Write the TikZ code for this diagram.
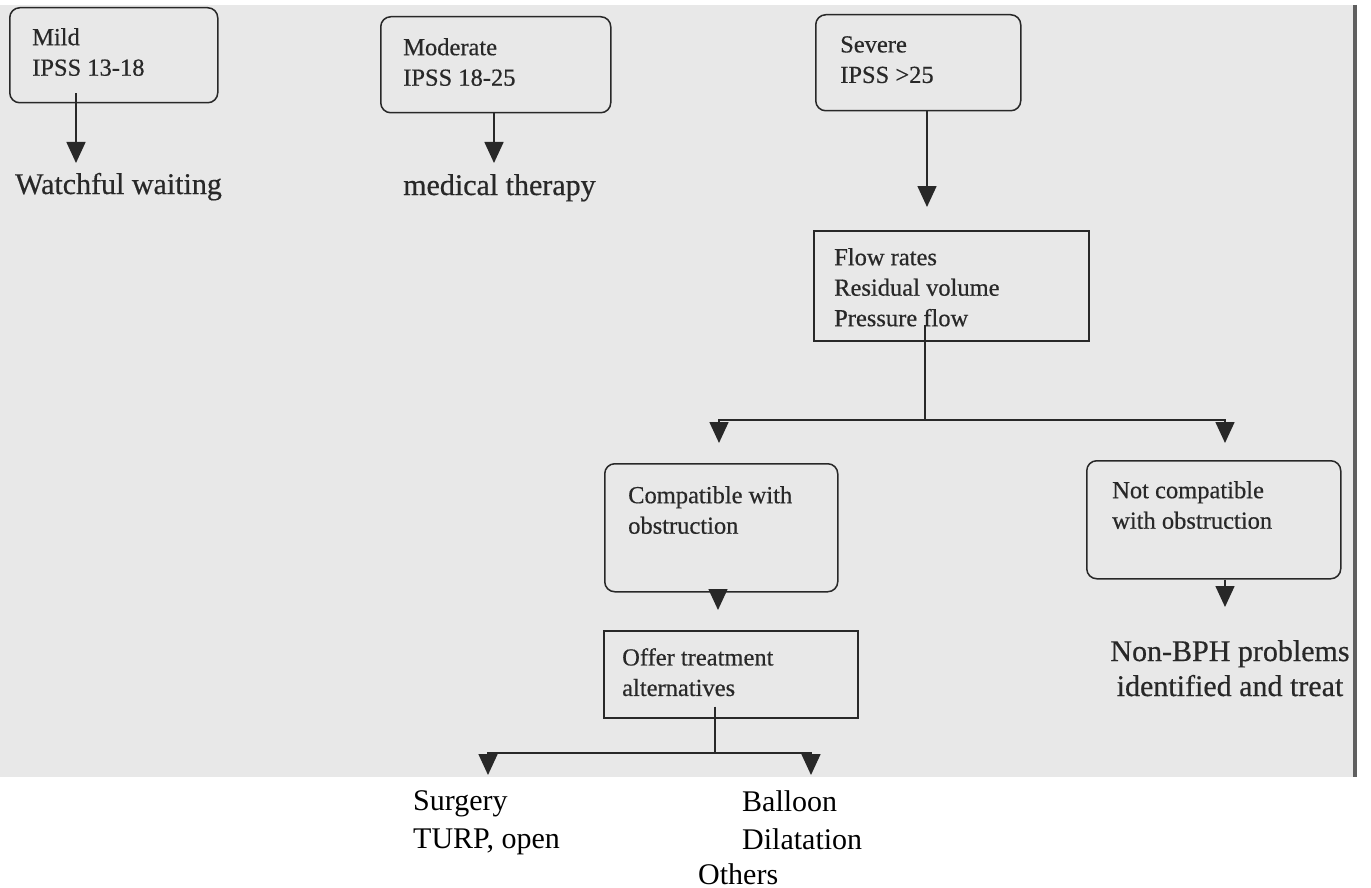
\documentclass[tikz,border=0pt]{standalone}
\usepackage{fontspec}
\setmainfont{Liberation Serif}
\newfontfamily\scanfont[FakeBold=0.5]{Liberation Serif}
\usetikzlibrary{arrows.meta,calc}
\definecolor{page}{RGB}{232,232,232}
\definecolor{ink}{RGB}{40,40,40}
\definecolor{edgeline}{RGB}{95,95,95}
\begin{document}
\begin{tikzpicture}[x=1pt,y=-1pt,
  rbox/.style={draw=ink, line width=1.5pt, rounded corners=10pt, inner sep=0pt, anchor=north west},
  sbox/.style={draw=ink, line width=1.5pt, inner sep=0pt, anchor=north west},
  btxt/.style={anchor=north west, inner sep=0pt, align=left, text=ink, font=\scanfont\fontsize{24.5}{30.5}\selectfont},
  big/.style={text=ink, inner sep=0pt, font=\scanfont\fontsize{30}{35}\selectfont},
  low/.style={text=black, inner sep=0pt, anchor=north west, align=left, font=\fontsize{30}{38}\selectfont},
  conn/.style={draw=ink, line width=1.6pt},
  arr/.style={conn, -{Triangle[width=19pt,length=21pt]}},
]
\useasboundingbox (0,0) rectangle (1371,888);
% background page
\fill[white] (0,0) rectangle (1371,888);
\fill[page] (0,5) rectangle (1353,777);

% boxes
\node[rbox, minimum width=208pt, minimum height=95pt] (mild) at (9,7) {};
\node[rbox, minimum width=230pt, minimum height=96pt] (moderate) at (380,16) {};
\node[rbox, minimum width=205pt, minimum height=96pt] (severe) at (815,14) {};
\node[sbox, minimum width=275pt, minimum height=110pt] (flow) at (813,230) {};
\node[rbox, minimum width=233pt, minimum height=128pt] (compat) at (604,463) {};
\node[rbox, minimum width=254pt, minimum height=118pt] (notcomp) at (1086,460) {};
\node[sbox, minimum width=254pt, minimum height=87pt] (offer) at (603,630) {};

% box texts
\node[btxt] (mildtxt) at (32,28) {Mild\\IPSS 13-18};
\node[btxt] (modtxt) at (403,38) {Moderate\\IPSS 18-25};
\node[btxt] (sevtxt) at (840,36) {Severe\\IPSS >25};
\node[btxt] (flowtxt) at (834,248) {Flow rates\\Residual volume\\Pressure flow};
\node[btxt] (comptxt) at (628,486) {Compatible with\\obstruction};
\node[btxt] (notctxt) at (1112,481) {Not compatible\\with obstruction};
\node[btxt] (offertxt) at (622,648) {Offer treatment\\alternatives};

% outcome texts
\node[big, anchor=base west] (ww) at (15,194) {Watchful waiting};
\node[big, anchor=base west] (med) at (403,195) {medical therapy};
\node[big, anchor=north, align=center] (nonbph) at (1230,640) {Non-BPH problems\\identified and treat};
\node[low] (surg) at (413,790) {Surgery\\TURP, open};
\node[low] (ball) at (742,790) {Balloon\\Dilatation};
\node[low] (others) at (698,863) {Others};

% arrow tips and junctions
\coordinate (t1) at (76,163);
\coordinate (t2) at (494,163);
\coordinate (t3) at (927,207);
\coordinate (j1) at (925,420);
\coordinate (t4) at (719,443);
\coordinate (t5) at (1225,443);
\coordinate (t6) at (718,610);
\coordinate (t7) at (1225,607);
\coordinate (j2) at (715,753);
\coordinate (t8) at (488,775);
\coordinate (t9) at (811,775);

% connectors
\draw[arr] ([yshift=10pt]mild.south -| t1) -- (t1);
\draw[arr] (moderate.south -| t2) -- (t2);
\draw[arr] (severe.south -| t3) -- (t3);
\draw[conn] ([yshift=17pt]flow.south -| j1) -- (j1);
\draw[arr] (j1) -| (t4);
\draw[arr] (j1) -| (t5);
\draw[arr] (compat.south -| t6) -- (t6);
\draw[arr] (notcomp.south -| t7) -- (t7);
\draw[conn] ([yshift=12pt]offer.south -| j2) -- (j2);
\draw[arr] (j2) -| (t8);
\draw[arr] (j2) -| (t9);

% page edge
\draw[edgeline, line width=3.5pt] (1355,5) -- (1355,777);
\end{tikzpicture}
\end{document}
